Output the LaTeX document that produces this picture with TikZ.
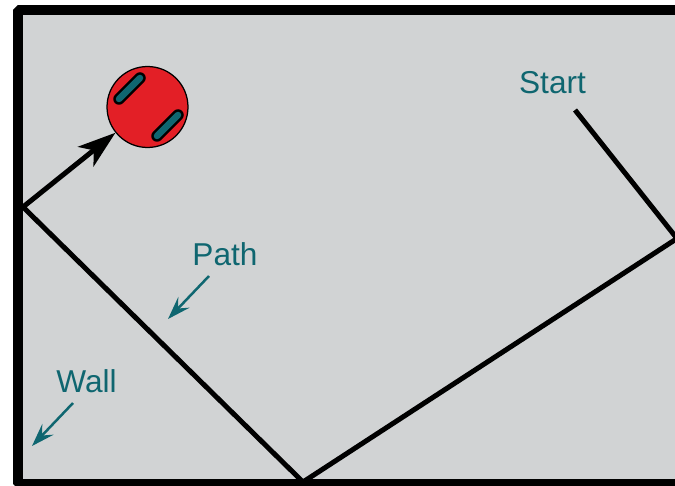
\documentclass[tikz,border=0pt]{standalone}
\usepackage{fontspec}
\setmainfont{Liberation Sans}
\usetikzlibrary{arrows.meta}
\definecolor{floorgray}{HTML}{D1D3D4}
\definecolor{robotred}{HTML}{E31F26}
\definecolor{labelteal}{HTML}{0F6670}
\tikzset{
    wall/.style={line width=0.2cm, line join=bevel},
    route/.style={line width=0.1cm},
    heading/.style={route, -{Stealth[length=0.76cm, width=0.5cm, inset=0.2cm]}},
    wheel/.style={line width=0.05cm, double=labelteal, double distance=0.13cm, line cap=round},
    tag/.style={text=labelteal, font=\fontsize{18}{20}\selectfont, inner sep=0pt},
    pointer/.style={draw=labelteal, line width=0.05cm, -{Stealth[length=0.46cm, width=0.31cm, inset=0.17cm]}}
}

\begin{document}
\begin{tikzpicture}[x=0.02cm, y=-0.02cm]
    % Robot following its path inside the walls
    \clip (0,0) rectangle (675,486);
    \fill[floorgray] (18,10) rectangle (675,484);
    \draw[wall] (690,10) -- (18,10) -- (18,484) -- (690,484);

    \node[circle, draw, fill=robotred, line width=0.025cm, minimum size=1.62cm, inner sep=0pt] (robot) at (147.5,107) {};
    \draw[wheel] (119,99) -- (140,78);
    \draw[wheel] (157,136) -- (178,115);

    \coordinate (pathstart) at (575,110);
    \coordinate (rightturn) at (677,238.5);
    \coordinate (floorturn) at (303,482);
    \coordinate (wallturn) at (23,207);
    \draw[route] (pathstart) -- (rightturn) -- (floorturn) -- (wallturn);
    \draw[heading] (wallturn) -- (robot);

    \node[tag] (startlabel) at (552.5,83) {Start};
    \node[tag] (pathlabel) at (225,254) {Path};
    \node[tag] (walllabel) at (86.5,381) {Wall};

    \coordinate (pathfrom) at (209,276);
    \coordinate (pathtip) at (168,319);
    \coordinate (wallfrom) at (73,403);
    \coordinate (walltip) at (32,446);
    \draw[pointer] (pathfrom) -- (pathtip);
    \draw[pointer] (wallfrom) -- (walltip);
\end{tikzpicture}
\end{document}
